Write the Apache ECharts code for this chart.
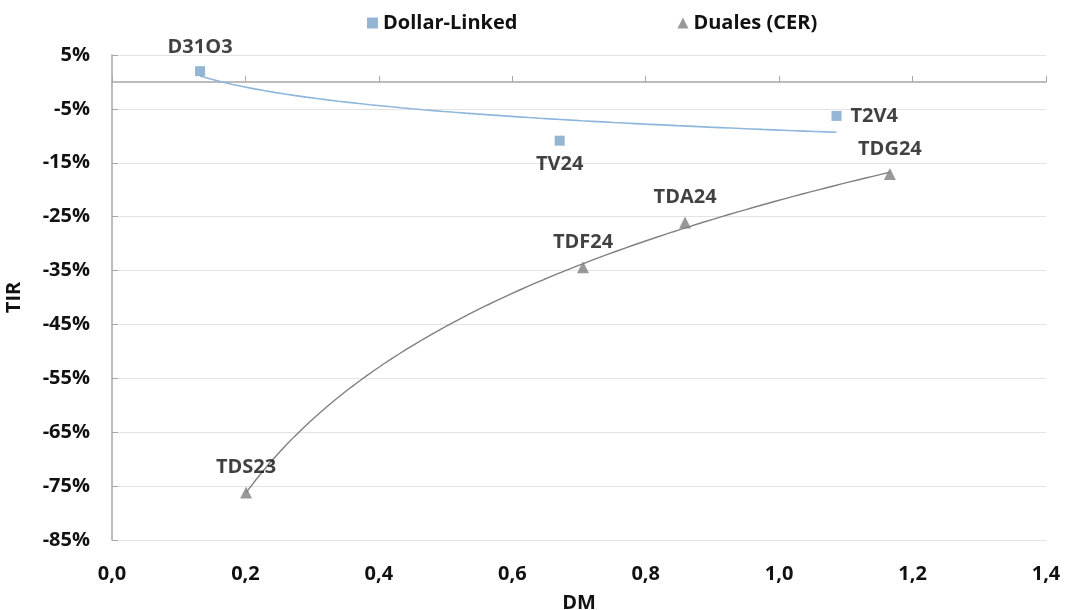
<!DOCTYPE html>
<html>
<head>
<meta charset="utf-8">
<script src="https://cdn.jsdelivr.net/npm/echarts@6/dist/echarts.min.js"></script>
<style>
  html, body { margin: 0; padding: 0; background: #fff; }
  #chart { width: 1066px; height: 610px; }
</style>
</head>
<body>
<div id="chart"></div>
<script>
// Bond tickers, modified duration (DM) and yield (TIR, %)
const dollarNames = ['D31O3', 'TV24', 'T2V4'];
const dollarDM = [0.132, 0.671, 1.086];
const dollarTIR = [2.0, -10.9, -6.3];

const dualNames = ['TDS23', 'TDF24', 'TDA24', 'TDG24'];
const dualDM = [0.201, 0.706, 0.859, 1.166];
const dualTIR = [-76.2, -34.4, -26.1, -17.1];

const xTicks = { min: 0, max: 1.4, interval: 0.2 };
const yTicks = { min: -85, max: 5, interval: 10 };

// label placement for each bond
const dollarLabelPos = ['top', 'bottom', 'right'];
const dualLabelPos = ['top', 'top', 'top', 'top'];

// logarithmic least-squares fit y = a + b*ln(x), drawn between the first and last DM
function logTrend(xs, ys, steps) {
  const lx = xs.map(Math.log);
  const n = xs.length;
  const mx = lx.reduce((s, v) => s + v, 0) / n;
  const my = ys.reduce((s, v) => s + v, 0) / n;
  let sxy = 0, sxx = 0;
  for (let i = 0; i < n; i++) {
    sxy += (lx[i] - mx) * (ys[i] - my);
    sxx += (lx[i] - mx) * (lx[i] - mx);
  }
  const b = sxy / sxx;
  const a = my - b * mx;
  const x0 = Math.min(...xs), x1 = Math.max(...xs);
  const out = [];
  for (let i = 0; i <= steps; i++) {
    const x = x0 + (x1 - x0) * i / steps;
    out.push([x, a + b * Math.log(x)]);
  }
  return out;
}

const FONT = 'Open Sans';
const textStyle = { fontFamily: FONT, fontWeight: 'bold', fontSize: 20, color: '#111111' };

const blue = '#7aa3c9';
const blueLine = '#8fb7dc';
const gray = '#808080';

function points(names, xs, ys, pos) {
  return names.map((n, i) => ({
    name: n,
    value: [xs[i], ys[i]],
    label: { position: pos[i] }
  }));
}

const chart = echarts.init(document.getElementById('chart'), null, { renderer: 'canvas' });

chart.setOption({
  animation: false,
  backgroundColor: '#ffffff',
  textStyle: { fontFamily: FONT },
  legend: {
    top: 8,
    left: 362,
    itemGap: 160,
    itemWidth: 11,
    itemHeight: 11,
    textStyle: textStyle,
    data: [
      { name: 'Dollar-Linked', icon: 'rect' },
      { name: 'Duales (CER)', icon: 'triangle' }
    ]
  },
  grid: { left: 112, right: 20, top: 55, bottom: 70, containLabel: false, outerBoundsMode: 'none' },
  xAxis: [
    {
      type: 'value',
      min: xTicks.min, max: xTicks.max, interval: xTicks.interval,
      position: 'bottom',
      name: 'DM',
      nameLocation: 'middle',
      nameGap: 53,
      nameTextStyle: textStyle,
      axisLine: { show: false, onZero: false },
      axisTick: { show: false },
      splitLine: { show: false },
      axisLabel: Object.assign({}, textStyle, {
        margin: 24,
        formatter: v => v.toFixed(1).replace('.', ',')
      })
    },
    {
      // axis line through TIR = 0 with upward ticks
      type: 'value',
      min: xTicks.min, max: xTicks.max, interval: xTicks.interval,
      position: 'top',
      axisLine: { show: true, onZero: true, lineStyle: { color: '#a6a6a6', width: 1.5 } },
      axisTick: { show: true, inside: false, length: 6, lineStyle: { color: '#a6a6a6' } },
      axisLabel: { show: false },
      splitLine: { show: false }
    }
  ],
  yAxis: {
    type: 'value',
    min: yTicks.min, max: yTicks.max, interval: yTicks.interval,
    name: 'TIR',
    nameLocation: 'middle',
    nameGap: 88,
    nameRotate: 90,
    nameTextStyle: textStyle,
    axisLine: { show: true, onZero: false, lineStyle: { color: '#a6a6a6', width: 1.5 } },
    axisTick: { show: true, inside: true, length: 6, lineStyle: { color: '#a6a6a6' } },
    splitLine: { show: true, lineStyle: { color: '#e3e3e3', width: 1 } },
    axisLabel: Object.assign({}, textStyle, {
      margin: 22,
      formatter: v => Math.round(v) + '%'
    })
  },
  series: [
    {
      name: 'Dollar-Linked trend',
      type: 'line',
      xAxisIndex: 0,
      data: logTrend(dollarDM, dollarTIR, 60),
      showSymbol: false,
      lineStyle: { color: blueLine, width: 1.6 },
      silent: true,
      z: 1
    },
    {
      name: 'Duales (CER) trend',
      type: 'line',
      xAxisIndex: 0,
      data: logTrend(dualDM, dualTIR, 80),
      showSymbol: false,
      lineStyle: { color: gray, width: 1.4 },
      silent: true,
      z: 1
    },
    {
      name: 'Dollar-Linked',
      type: 'scatter',
      xAxisIndex: 0,
      symbol: 'rect',
      symbolSize: 10,
      itemStyle: { color: blue },
      data: points(dollarNames, dollarDM, dollarTIR, dollarLabelPos),
      label: Object.assign({}, textStyle, {
        show: true,
        distance: 9,
        formatter: p => p.name
      }),
      z: 3
    },
    {
      name: 'Duales (CER)',
      type: 'scatter',
      xAxisIndex: 0,
      symbol: 'triangle',
      symbolSize: 12,
      itemStyle: { color: gray },
      data: points(dualNames, dualDM, dualTIR, dualLabelPos),
      label: Object.assign({}, textStyle, {
        show: true,
        distance: 9,
        formatter: p => p.name
      }),
      z: 3
    }
  ]
});
</script>
</body>
</html>
